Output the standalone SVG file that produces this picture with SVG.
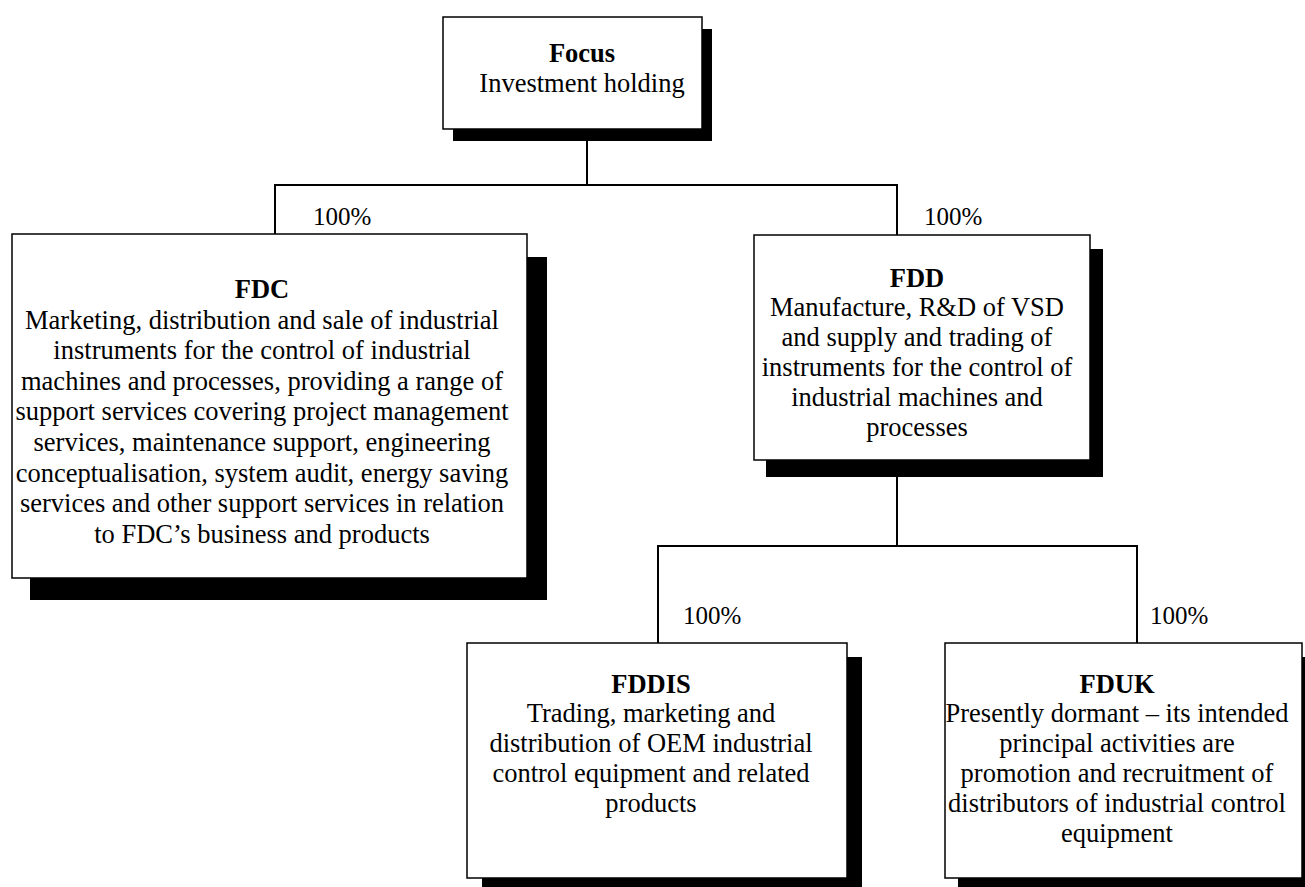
<svg xmlns="http://www.w3.org/2000/svg" width="1305" height="887" viewBox="0 0 1305 887">
<style>
.bg{fill:#ffffff}
.shadow{fill:#000000}
.box{fill:#ffffff;stroke:#000000;stroke-width:1.5}
.conn{fill:none;stroke:#000000;stroke-width:2}
text{font-family:"Liberation Serif","Times New Roman",serif;font-size:26.5px;fill:#000000}
.c{text-anchor:middle}
.b{font-weight:bold}
.pct{font-size:25px}
</style>
<rect class="bg" x="0" y="0" width="1305" height="887"/>
<g id="connectors">
<polyline class="conn" points="587,141 587,185"/>
<polyline class="conn" points="275,234 275,185 897,185 897,235"/>
<polyline class="conn" points="897,477 897,546"/>
<polyline class="conn" points="658,643 658,546 1137,546 1137,643"/>
<text class="pct" x="313" y="225">100%</text>
<text class="pct" x="924" y="225">100%</text>
<text class="pct" x="683" y="624">100%</text>
<text class="pct" x="1150" y="624">100%</text>
</g>
<g id="focus">
<rect class="shadow" x="453" y="29" width="259" height="112"/>
<rect class="box" x="443" y="17" width="259" height="112"/>
<text class="c b" x="582" y="62">Focus</text>
<text class="c" x="582" y="92">Investment holding</text>
</g>
<g id="fdc">
<rect class="shadow" x="30" y="257" width="517" height="343"/>
<rect class="box" x="12" y="234" width="515" height="344"/>
<text class="c b" x="262" y="298">FDC</text>
<text class="c" x="262" y="328.6">Marketing, distribution and sale of industrial</text>
<text class="c" x="262" y="359.2">instruments for the control of industrial</text>
<text class="c" x="262" y="389.8">machines and processes, providing a range of</text>
<text class="c" x="262" y="420.4">support services covering project management</text>
<text class="c" x="262" y="451">services, maintenance support, engineering</text>
<text class="c" x="262" y="481.6">conceptualisation, system audit, energy saving</text>
<text class="c" x="262" y="512.2">services and other support services in relation</text>
<text class="c" x="262" y="542.8">to FDC’s business and products</text>
</g>
<g id="fdd">
<rect class="shadow" x="766" y="249" width="337" height="228"/>
<rect class="box" x="754" y="235" width="336" height="225"/>
<text class="c b" x="917" y="286.5">FDD</text>
<text class="c" x="917" y="316">Manufacture, R&amp;D of VSD</text>
<text class="c" x="917" y="346">and supply and trading of</text>
<text class="c" x="917" y="376">instruments for the control of</text>
<text class="c" x="917" y="406">industrial machines and</text>
<text class="c" x="917" y="436">processes</text>
</g>
<g id="fddis">
<rect class="shadow" x="482" y="657" width="380" height="236"/>
<rect class="box" x="467" y="643" width="380" height="235"/>
<text class="c b" x="651" y="693">FDDIS</text>
<text class="c" x="651" y="722">Trading, marketing and</text>
<text class="c" x="651" y="752">distribution of OEM industrial</text>
<text class="c" x="651" y="782">control equipment and related</text>
<text class="c" x="651" y="812">products</text>
</g>
<g id="fduk">
<rect class="shadow" x="958" y="657" width="360" height="236"/>
<rect class="box" x="945" y="643" width="357" height="235"/>
<text class="c b" x="1117" y="693">FDUK</text>
<text class="c" x="1117" y="722">Presently dormant – its intended</text>
<text class="c" x="1117" y="752">principal activities are</text>
<text class="c" x="1117" y="782">promotion and recruitment of</text>
<text class="c" x="1117" y="812">distributors of industrial control</text>
<text class="c" x="1117" y="842">equipment</text>
</g>
</svg>
